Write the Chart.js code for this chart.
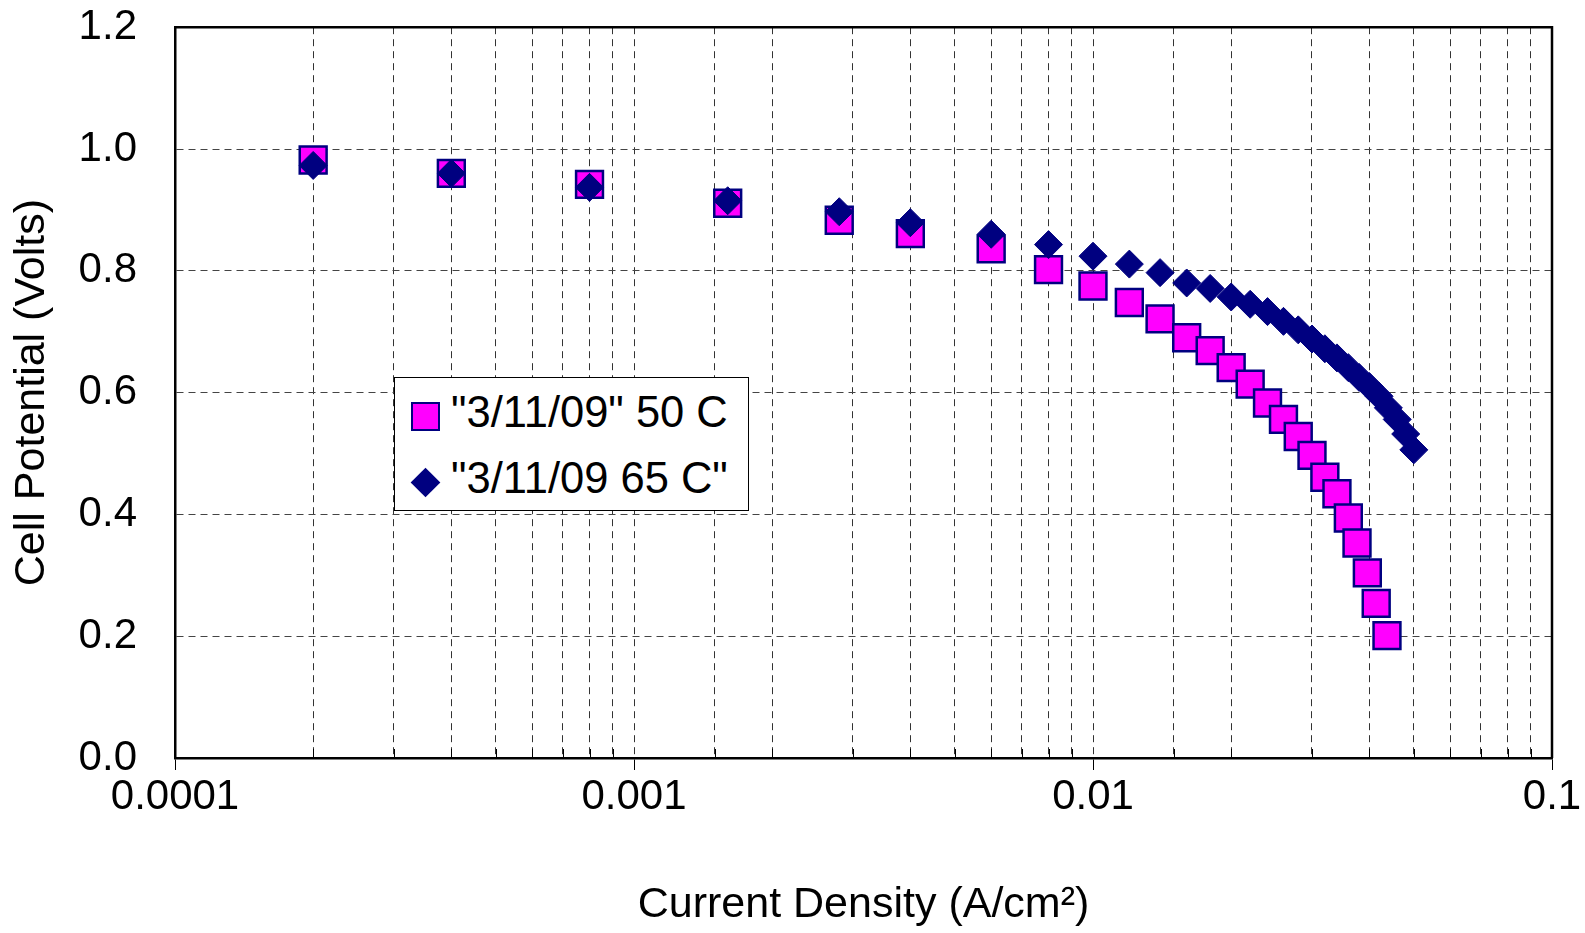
<!DOCTYPE html>
<html>
<head>
<meta charset="utf-8">
<script src="https://cdn.jsdelivr.net/npm/chart.js@4.4.0/dist/chart.umd.min.js"></script>
<style>
  html, body { margin: 0; padding: 0; background: #fff; }
  #wrap { position: relative; width: 1585px; height: 933px; }
  #c { position: absolute; left: 0; top: 0; }
  #legend { position: absolute; left: 394px; top: 377px; width: 355px; height: 134px;
    border: 1px solid #000; background: #fff; box-sizing: border-box;
    font-family: "Liberation Sans", Arial, sans-serif; font-size: 43.5px; color: #000; }
  .lt { position: absolute; left: 56px; line-height: 43px; white-space: nowrap; }
  .sq { position: absolute; left: 16px; top: 24px; width: 29px; height: 29px; box-sizing: border-box;
    background: #FF00FF; border: 2.5px solid #000080; }
  .dm { position: absolute; left: 20px; top: 94px; width: 21px; height: 21px; background: #000080;
    transform: rotate(45deg); }
</style>
</head>
<body>
<div id="wrap">
  <canvas id="c" width="1585" height="933"></canvas>
  <div id="legend">
    <div class="sq"></div><div class="lt" id="l1" style="top:13px"></div>
    <div class="dm"></div><div class="lt" id="l2" style="top:79px"></div>
  </div>
</div>
<script>
// ---- data ----
const seriesNames = ['"3/11/09" 50 C', '"3/11/09 65 C"'];
const current50 = [0.0002, 0.0004, 0.0008, 0.0016, 0.0028, 0.004, 0.006, 0.008, 0.010, 0.012, 0.014, 0.016, 0.018, 0.020, 0.022, 0.024, 0.026, 0.028, 0.030, 0.032, 0.034, 0.036, 0.0376, 0.0396, 0.0414, 0.0437];
const potential50 = [0.982, 0.960, 0.942, 0.911, 0.883, 0.861, 0.836, 0.802, 0.775, 0.748, 0.721, 0.690, 0.669, 0.641, 0.614, 0.583, 0.556, 0.528, 0.497, 0.461, 0.434, 0.394, 0.353, 0.304, 0.254, 0.201];
const current65 = [0.0002, 0.0004, 0.0008, 0.0016, 0.0028, 0.004, 0.006, 0.008, 0.010, 0.012, 0.014, 0.016, 0.018, 0.020, 0.022, 0.024, 0.026, 0.028, 0.030, 0.032, 0.034, 0.036, 0.038, 0.040, 0.042, 0.044, 0.046, 0.048, 0.050];
const potential65 = [0.973, 0.960, 0.937, 0.915, 0.897, 0.879, 0.860, 0.843, 0.824, 0.811, 0.797, 0.780, 0.771, 0.757, 0.745, 0.733, 0.717, 0.703, 0.688, 0.672, 0.657, 0.641, 0.625, 0.610, 0.594, 0.575, 0.556, 0.532, 0.506];
const xTickLabels = ['0.0001', '0.001', '0.01', '0.1'];
const yTickLabels = ['0.0', '0.2', '0.4', '0.6', '0.8', '1.0', '1.2'];
const xTitle = 'Current Density (A/cm²)';
const yTitle = 'Cell Potential (Volts)';

document.getElementById('l1').textContent = seriesNames[0];
document.getElementById('l2').textContent = seriesNames[1];

const FONT = '"Liberation Sans", Arial, sans-serif';
const isDecade = v => { const l = Math.log10(v); return Math.abs(l - Math.round(l)) < 1e-6; };

const frame = {
  id: 'frame',
  afterDraw(chart) {
    const ctx = chart.ctx, a = chart.chartArea, xs = chart.scales.x;
    ctx.save();
    ctx.strokeStyle = '#000';
    ctx.lineWidth = 1;
    ctx.setLineDash([]);
    ctx.beginPath();
    xs.ticks.forEach(t => {
      if (!isDecade(t.value)) {
        const px = Math.round(xs.getPixelForValue(t.value)) + 0.5;
        ctx.moveTo(px, a.bottom);
        ctx.lineTo(px, a.bottom - 9);
      }
    });
    ctx.stroke();
    ctx.lineWidth = 2.5;
    ctx.beginPath();
    ctx.moveTo(a.left, a.top);
    ctx.lineTo(a.right, a.top);
    ctx.lineTo(a.right, a.bottom);
    ctx.stroke();
    ctx.restore();
  }
};

new Chart(document.getElementById('c'), {
  type: 'scatter',
  data: {
    datasets: [
      { label: seriesNames[0], data: current50.map((x, i) => ({ x, y: potential50[i] })),
        pointStyle: 'rect', pointRadius: 19, borderWidth: 2.5,
        backgroundColor: '#FF00FF', borderColor: '#000080', order: 2 },
      { label: seriesNames[1], data: current65.map((x, i) => ({ x, y: potential65[i] })),
        pointStyle: 'rectRot', pointRadius: 14, borderWidth: 1,
        backgroundColor: '#000080', borderColor: '#000080', order: 1 }
    ]
  },
  options: {
    responsive: false,
    devicePixelRatio: 1,
    animation: false,
    events: [],
    layout: { padding: { top: 25, right: 33, left: 0, bottom: 0 } },
    plugins: { legend: { display: false }, tooltip: { enabled: false } },
    scales: {
      x: {
        type: 'logarithmic', min: 0.0001, max: 0.1,
        afterFit(s) { s.height = 175; },
        border: { display: true, color: '#000', width: 2.5, dash: [7, 5] },
        grid: {
          color: '#333', lineWidth: 1, drawTicks: true, tickLength: 12,
          tickColor: ctx => (ctx.tick && isDecade(ctx.tick.value)) ? '#000' : 'rgba(0,0,0,0)',
          tickBorderDash: [], tickWidth: 1
        },
        ticks: {
          autoSkip: false, maxRotation: 0, padding: 2, color: '#000',
          font: { family: FONT, size: 42 },
          callback: v => isDecade(v) ? xTickLabels[Math.round(Math.log10(v)) + 4] : ''
        },
        title: { display: true, text: xTitle, color: '#000', font: { family: FONT, size: 43 },
          padding: { top: 0, bottom: 2 } }
      },
      y: {
        type: 'linear', min: 0, max: 1.2,
        afterFit(s) { s.width = 175; },
        border: { display: true, color: '#000', width: 2.5, dash: [7, 5] },
        grid: { color: '#444', lineWidth: 1, drawTicks: true, tickLength: 36,
          tickColor: 'rgba(0,0,0,0)' },
        ticks: {
          stepSize: 0.2, padding: 2, color: '#000',
          font: { family: FONT, size: 42 },
          callback: (v) => yTickLabels[Math.round(v / 0.2)]
        },
        title: { display: true, text: yTitle, color: '#000', font: { family: FONT, size: 43 },
          padding: { top: 6, bottom: 0 } }
      }
    }
  },
  plugins: [frame]
});
</script>
</body>
</html>
